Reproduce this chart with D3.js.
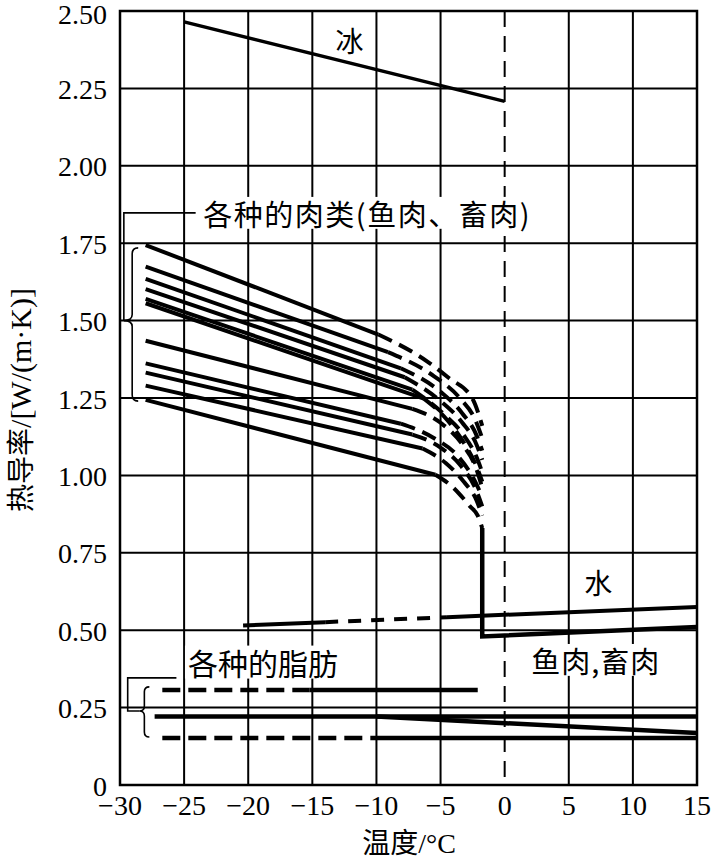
<!DOCTYPE html>
<html><head><meta charset="utf-8">
<script src="https://cdn.jsdelivr.net/npm/d3@7"></script>
<style>body{margin:0;background:#fff}</style>
</head><body>
<svg id="c" width="713" height="862"></svg>
<script>
// ---------- data ----------
const xTicks = [-30,-25,-20,-15,-10,-5,0,5,10,15];
const xTickLabels = ["\u221230","\u221225","\u221220","\u221215","\u221210","\u22125","0","5","10","15"];
const yTicks = [0,0.25,0.5,0.75,1.0,1.25,1.5,1.75,2.0,2.25,2.5];
const yTickLabels = ["0","0.25","0.50","0.75","1.00","1.25","1.50","1.75","2.00","2.25","2.50"];

const iceLine = [[-25,2.465],[0,2.208]];
const waterSolidA = [[-20.4,0.515],[-14,0.526]];
const waterDashed = [[-14,0.526],[-4.5,0.542]];
const waterSolidB = [[-4.5,0.542],[15,0.575]];
const meatUnfrozen = [[-1.75,0.83],[-1.75,0.48],[0,0.483],[15,0.51]];

const meatSolid = [
  [[-28,1.744],[-9.85,1.455]],
  [[-28,1.674],[-9.1,1.398]],
  [[-28,1.635],[-8.1,1.346]],
  [[-28,1.602],[-7.8,1.317]],
  [[-28,1.570],[-7.2,1.277]],
  [[-28,1.556],[-6.3,1.248]],
  [[-28,1.435],[-7.2,1.215]],
  [[-28,1.362],[-8.1,1.167]],
  [[-28,1.332],[-7.2,1.132]],
  [[-28,1.290],[-6.4,1.087]],
  [[-28,1.244],[-5.4,1.002]]
];
const meatDashed = [
  [[-9.85,1.455],[-6,1.367],[-4.4,1.316],[-2.5,1.247],[-1.75,1.16]],
  [[-9.1,1.398],[-5.5,1.32],[-3.5,1.25],[-2.3,1.18],[-1.75,1.12]],
  [[-8.1,1.346],[-5,1.27],[-3.3,1.2],[-2.2,1.13],[-1.75,1.08]],
  [[-7.8,1.317],[-5,1.24],[-3.3,1.17],[-2.2,1.1],[-1.75,1.05]],
  [[-7.2,1.277],[-4.8,1.2],[-3.2,1.13],[-2.2,1.06],[-1.75,1.01]],
  [[-6.3,1.248],[-4.5,1.18],[-3.1,1.1],[-2.2,1.03],[-1.75,0.98]],
  [[-7.2,1.215],[-5,1.17],[-3.3,1.1],[-2.2,1.02],[-1.75,0.96]],
  [[-8.1,1.167],[-5.5,1.12],[-3.6,1.06],[-2.3,0.98],[-1.75,0.93]],
  [[-7.2,1.132],[-5,1.09],[-3.4,1.03],[-2.3,0.96],[-1.75,0.9]],
  [[-6.4,1.087],[-4.6,1.04],[-3.2,0.98],[-2.2,0.92],[-1.75,0.87]],
  [[-5.4,1.002],[-4.1,0.964],[-2.7,0.90],[-2.1,0.87],[-1.75,0.83]]
];

const fatDashed = [
  [[-26.7,0.307],[-15.2,0.307]],
  [[-26.7,0.152],[-10,0.152]]
];
const fatSolid = [
  [[-15.2,0.307],[-2.1,0.307]],
  [[-27.3,0.221],[15,0.221]],
  [[-10,0.221],[15,0.168]],
  [[-10,0.152],[15,0.152]]
];

// ---------- setup ----------
const svg = d3.select("#c");
const x = d3.scaleLinear().domain([-30,15]).range([120,697]);
const y = d3.scaleLinear().domain([0,2.5]).range([785,11]);
const line = d3.line().x(d=>x(d[0])).y(d=>y(d[1]));
const curve = d3.line().x(d=>x(d[0])).y(d=>y(d[1])).curve(d3.curveMonotoneX);
const serif = "'Liberation Serif','Times New Roman',serif";
const cjk = "'Noto Sans CJK SC',sans-serif";

// grid
const g = svg.append("g").attr("stroke","#000").attr("stroke-width",2);
g.selectAll("line.v").data(xTicks.filter(t=>t!==0)).join("line")
  .attr("x1",d=>x(d)).attr("x2",d=>x(d)).attr("y1",y(0)).attr("y2",y(2.5));
g.selectAll("line.h").data(yTicks).join("line")
  .attr("x1",x(-30)).attr("x2",x(15)).attr("y1",d=>y(d)).attr("y2",d=>y(d));
svg.append("line").attr("x1",x(0)).attr("x2",x(0)).attr("y1",y(2.5)).attr("y2",y(0))
  .attr("stroke","#000").attr("stroke-width",2).attr("stroke-dasharray","16,9");

// tick labels
svg.append("g").selectAll("text").data(yTicks).join("text")
  .attr("x",107).attr("y",d=>Math.max(y(d)+1,14)).attr("text-anchor","end").attr("dominant-baseline","central")
  .attr("font-family",serif).attr("font-size",28).text((d,i)=>yTickLabels[i]);
svg.append("g").selectAll("text").data(xTicks).join("text")
  .attr("x",d=>x(d)).attr("y",815).attr("text-anchor","middle")
  .attr("font-family",serif).attr("font-size",28).text((d,i)=>xTickLabels[i]);

// axis titles
const xt = svg.append("text").attr("x",409).attr("y",853).attr("text-anchor","middle").attr("font-size",28);
xt.append("tspan").attr("font-family",cjk).text("温度");
xt.append("tspan").attr("font-family",serif).text("/°C");
const yt = svg.append("text").attr("transform","translate(31,400) rotate(-90)").attr("text-anchor","middle");
yt.append("tspan").attr("font-family",cjk).attr("font-size",28).text("热导率");
yt.append("tspan").attr("font-family",serif).attr("font-size",30).text("/[W/(m\u00B7K)]");

// labels with white background
function label(txt, px, py, size, anchor, ls){
  const t = svg.append("text").attr("x",px).attr("y",py).attr("font-family",cjk)
    .attr("font-size",size).attr("text-anchor",anchor).attr("dominant-baseline","central")
    .attr("letter-spacing",ls||0).text(txt);
  const b = t.node().getBBox();
  svg.insert("rect", function(){return t.node();})
    .attr("x",b.x-3).attr("y",py-size*0.55).attr("width",b.width+6).attr("height",size*1.1).attr("fill","#fff");
}
label("冰", x(-12.1), y(2.405), 28, "middle");
label("各种的肉类(鱼肉、畜肉)", x(-23.5), y(1.848), 29, "start", 1.5);
label("水", x(7.3), y(0.656), 28, "middle");
label("鱼肉,畜肉", x(7.1), y(0.404), 29, "middle", 1);
label("各种的脂肪", x(-24.7), y(0.397), 30, "start");

// data lines
const d = svg.append("g").attr("fill","none").attr("stroke","#000");
d.append("path").attr("d",line(iceLine)).attr("stroke-width",3.5);
d.append("path").attr("d",line(waterSolidA)).attr("stroke-width",4);
d.append("path").attr("d",line(waterDashed)).attr("stroke-width",4).attr("stroke-dasharray","13,10");
d.append("path").attr("d",line(waterSolidB)).attr("stroke-width",4);
d.append("path").attr("d",line(meatUnfrozen)).attr("stroke-width",4.5);
meatSolid.forEach(s=>d.append("path").attr("d",line(s)).attr("stroke-width",4));
meatDashed.forEach(s=>d.append("path").attr("d",curve(s)).attr("stroke-width",4).attr("stroke-dasharray","15,8"));
fatDashed.forEach(s=>d.append("path").attr("d",line(s)).attr("stroke-width",4.5).attr("stroke-dasharray","18,8"));
fatSolid.forEach(s=>d.append("path").attr("d",line(s)).attr("stroke-width",4.5));

// frame
svg.append("rect").attr("x",x(-30)).attr("y",y(2.5)).attr("width",x(15)-x(-30)).attr("height",y(0)-y(2.5))
  .attr("fill","none").attr("stroke","#000").attr("stroke-width",2.5);

// braces and leaders
function brace(sx, y1, y2, ym, tipx, h){
  return `M${sx+h},${y1} Q${sx},${y1} ${sx},${y1+h} L${sx},${ym-h} Q${sx},${ym} ${tipx},${ym} Q${sx},${ym} ${sx},${ym+h} L${sx},${y2-h} Q${sx},${y2} ${sx+h},${y2}`;
}
const a = svg.append("g").attr("fill","none").attr("stroke","#000").attr("stroke-width",1.6);
a.append("path").attr("d", brace(x(-29.05), y(1.735), y(1.24), y(1.50), x(-29.7), 6));
a.append("path").attr("d", `M${x(-24.1)},${y(1.848)} L${x(-29.7)},${y(1.848)} L${x(-29.7)},${y(1.50)}`);
a.append("path").attr("d", brace(x(-28.1), y(0.317), y(0.155), y(0.239), x(-28.5), 5));
a.append("path").attr("d", `M${x(-25.6)},${y(0.346)} L${x(-29.4)},${y(0.346)} L${x(-29.4)},${y(0.239)} L${x(-28.5)},${y(0.239)}`);
</script>
</body></html>
